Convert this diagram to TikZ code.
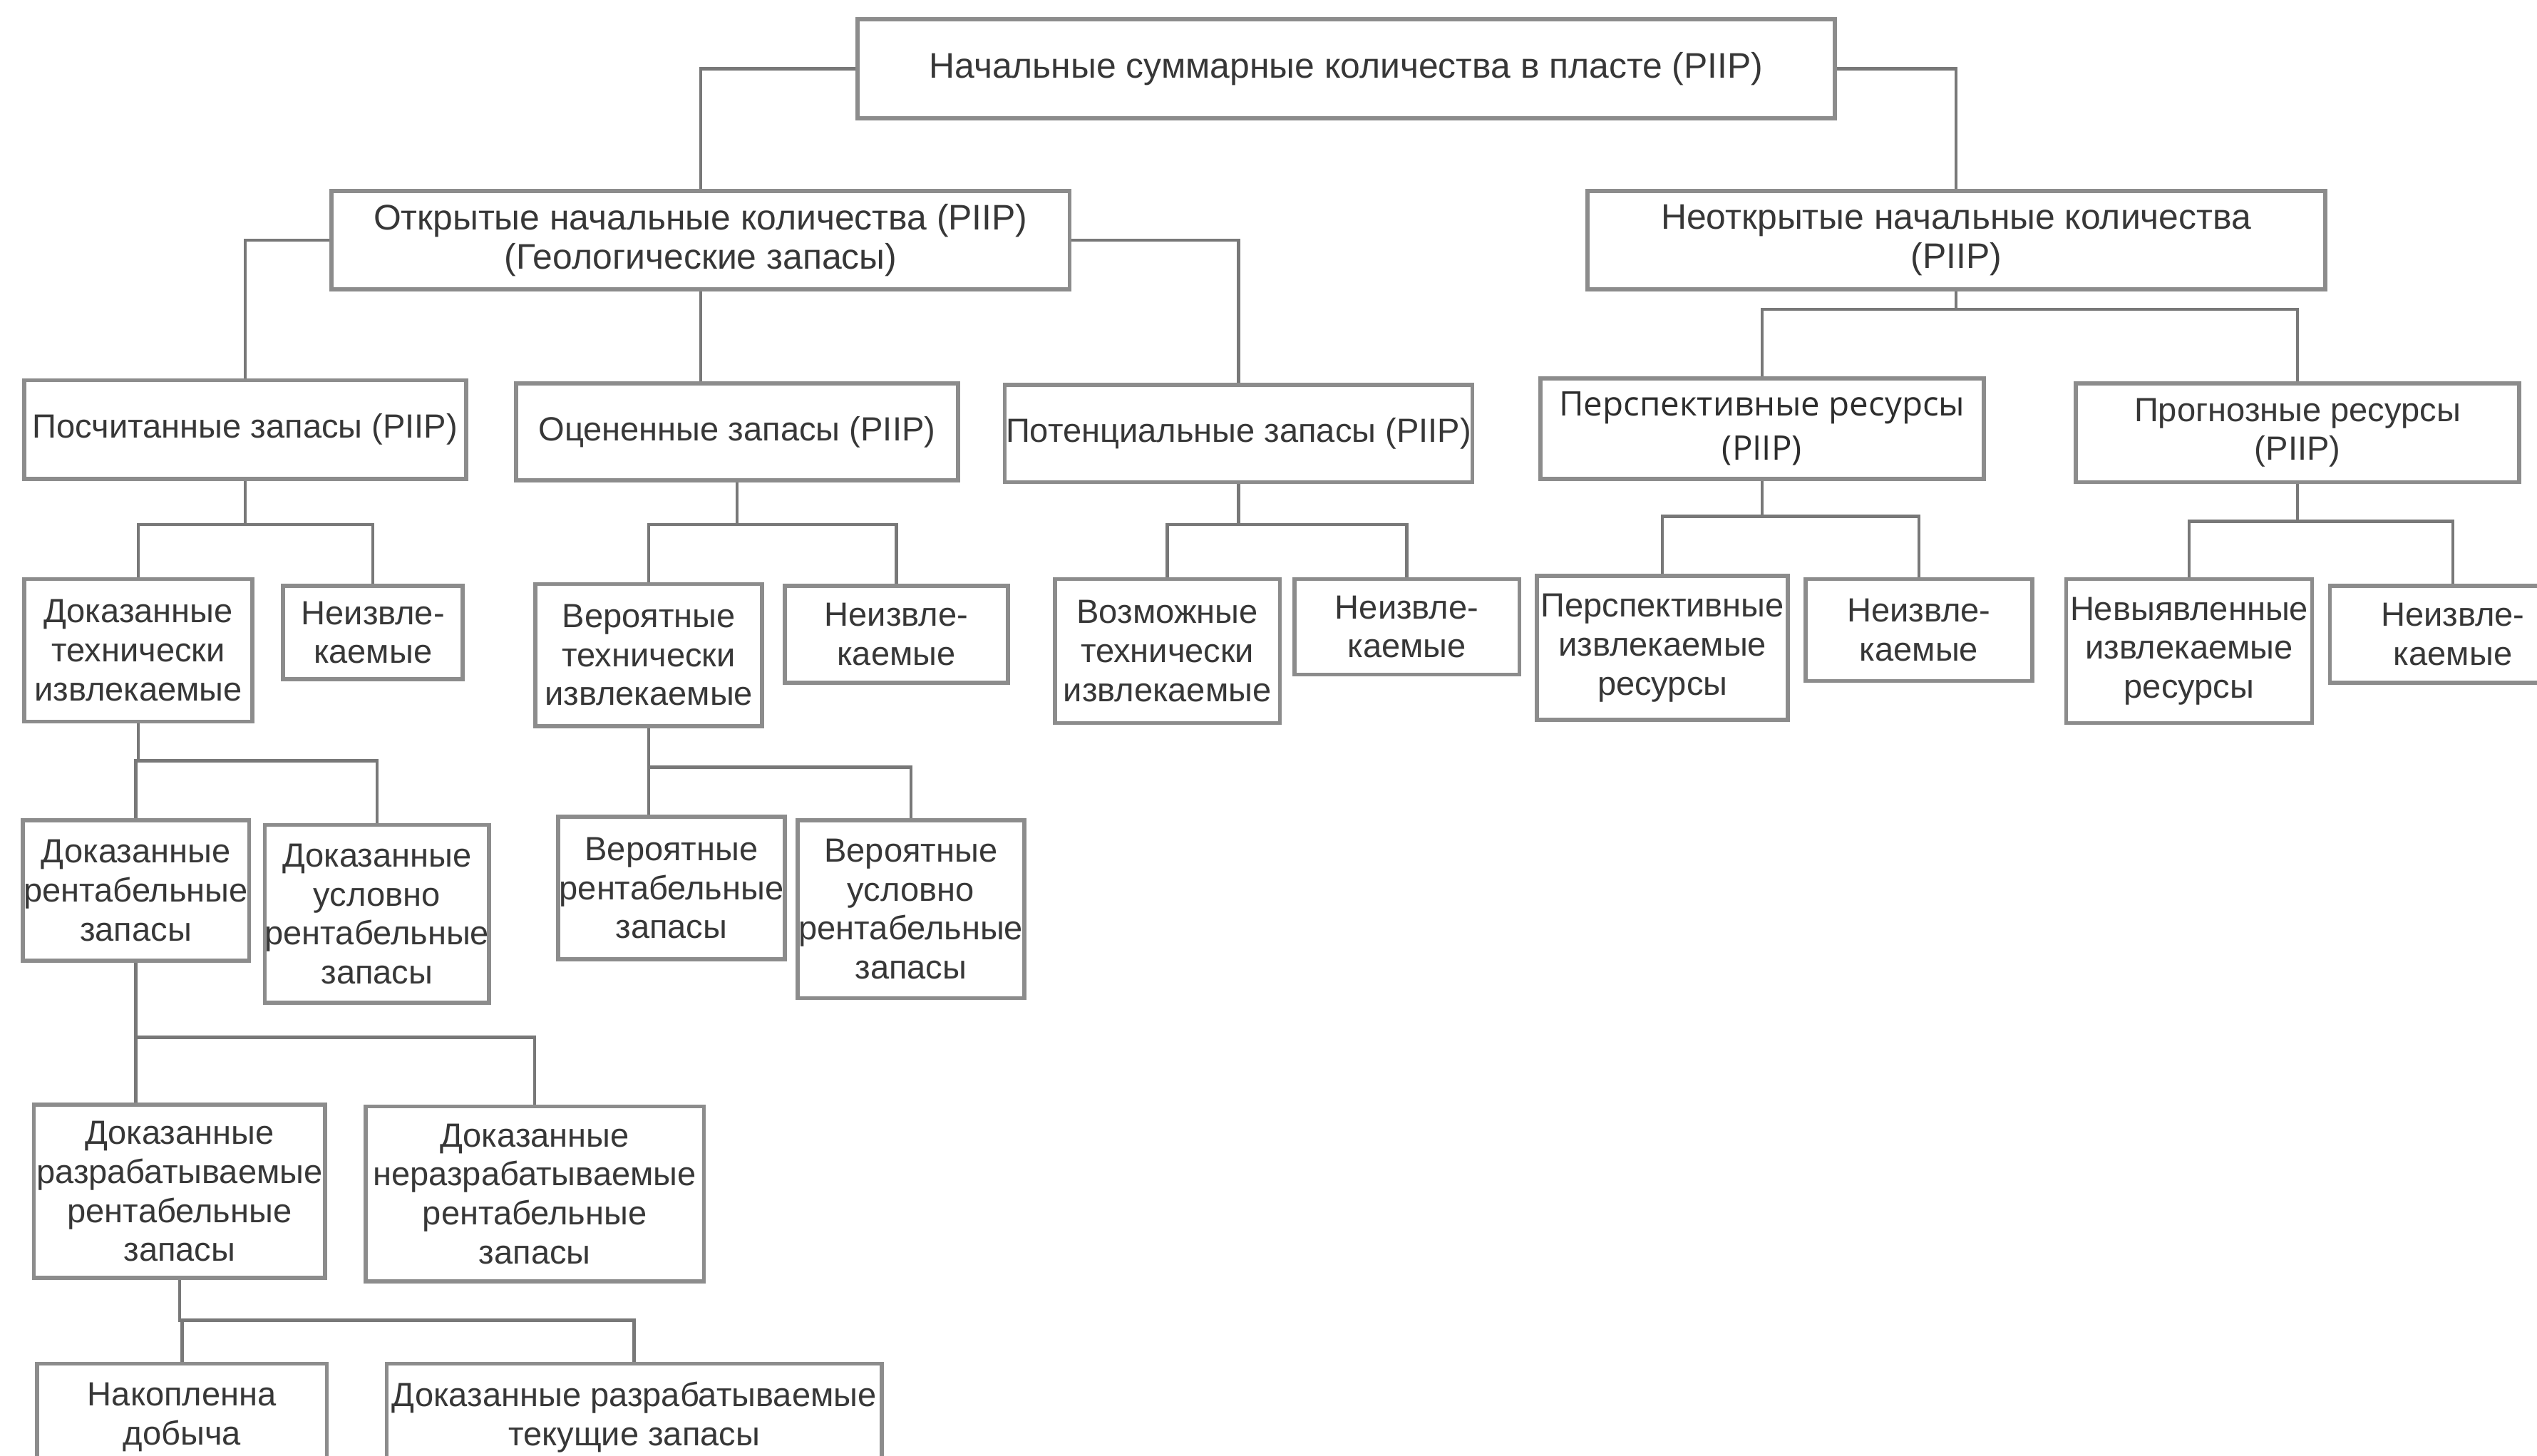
\documentclass[tikz,border=0pt]{standalone}
\usepackage{fontspec}
\setmainfont{Liberation Sans}
\newfontfamily\perspfont{Open Sans}
\usepackage{xcolor}
\definecolor{Line}{RGB}{120,120,120}
\definecolor{Frame}{RGB}{140,140,140}
\definecolor{Ink}{RGB}{55,55,55}
\definecolor{DarkInk}{RGB}{45,45,45}
\definecolor{White}{RGB}{255,255,255}
\tikzset{
	box/.style={draw=Frame, line width=0.5mm, fill=White, inner sep=0pt, align=center, text=Ink, font=\fontsize{12.5}{13.7}\selectfont},
	smallbox/.style={box, font=\fontsize{11.8}{13.7}\selectfont},
	link/.style={draw=Line, line width=0.4mm},
}

\begin{document}
\begin{tikzpicture}[x=0.2mm, y=-0.2mm]
		
		% Page
		\fill[White] (0,0) rectangle (1568,900);
		\useasboundingbox (0,0) rectangle (1568,900);
		
		% Blocks
		\node[box, minimum width=120.8mm, minimum height=12.2mm] (total) at (832,42.5) {Начальные суммарные количества в пласте (PIIP)};
		\node[box, minimum width=91.2mm, minimum height=12.2mm] (open) at (433,148.5) {Открытые начальные количества (PIIP)\\(Геологические запасы)};
		\node[box, minimum width=91.2mm, minimum height=12.2mm] (undisc) at (1209,148.5) {Неоткрытые начальные количества\\(PIIP)};
		
		\node[smallbox, minimum width=54.6mm, minimum height=12.2mm] (counted) at (151.5,265.5) {Посчитанные запасы (PIIP)};
		\node[smallbox, minimum width=54.6mm, minimum height=12mm] (estim) at (455.5,267) {Оцененные запасы (PIIP)};
		\node[smallbox, minimum width=57.8mm, minimum height=12mm] (potent) at (765.5,268) {Потенциальные запасы (PIIP)};
		\node[box, minimum width=54.8mm, minimum height=12.4mm, text=DarkInk, font=\perspfont\fontsize{11.9}{15.4}\selectfont] (prosp) at (1089,265) {Перспективные ресурсы\\(PIIP)};
		\node[smallbox, minimum width=54.8mm, minimum height=12.2mm] (progn) at (1420,267.5) {Прогнозные ресурсы\\(PIIP)};
		
		\node[smallbox, minimum width=28.2mm, minimum height=17.6mm] (provedtech) at (85.5,402) {Доказанные\\технически\\извлекаемые};
		\node[smallbox, minimum width=22.2mm, minimum height=11.6mm] (provedunrec) at (230.5,391) {Неизвле-\\каемые};
		\node[smallbox, minimum width=28mm, minimum height=17.6mm] (probtech) at (401,405) {Вероятные\\технически\\извлекаемые};
		\node[smallbox, minimum width=27.6mm, minimum height=12mm] (probunrec) at (554,392) {Неизвле-\\каемые};
		\node[smallbox, minimum width=27.8mm, minimum height=17.8mm] (posstech) at (721.5,402.5) {Возможные\\технически\\извлекаемые};
		\node[smallbox, minimum width=27.8mm, minimum height=11.8mm] (possunrec) at (869.5,387.5) {Неизвле-\\каемые};
		\node[smallbox, minimum width=31mm, minimum height=17.8mm] (prosprec) at (1027.5,400.5) {Перспективные\\извлекаемые\\ресурсы};
		\node[smallbox, minimum width=28mm, minimum height=12.6mm] (prospunrec) at (1186,389.5) {Неизвле-\\каемые};
		\node[smallbox, minimum width=30.4mm, minimum height=17.8mm] (undetrec) at (1353,402.5) {Невыявленные\\извлекаемые\\ресурсы};
		\node[smallbox, minimum width=30.4mm, minimum height=12mm] (undetunrec) at (1516,392) {Неизвле-\\каемые};
		
		\node[smallbox, minimum width=28mm, minimum height=17.4mm] (provedecon) at (84,550.5) {Доказанные\\рентабельные\\запасы};
		\node[smallbox, minimum width=27.6mm, minimum height=22mm] (provedcond) at (233,565) {Доказанные\\условно\\рентабельные\\запасы};
		\node[smallbox, minimum width=28mm, minimum height=17.6mm] (probecon) at (415,549) {Вероятные\\рентабельные\\запасы};
		\node[smallbox, minimum width=28mm, minimum height=22mm] (probcond) at (563,562) {Вероятные\\условно\\рентабельные\\запасы};
		
		\node[smallbox, minimum width=36mm, minimum height=21.4mm] (develop) at (111,736.5) {Доказанные\\разрабатываемые\\рентабельные\\запасы};
		\node[smallbox, minimum width=41.8mm, minimum height=21.6mm] (undevelop) at (330.5,738) {Доказанные\\неразрабатываемые\\рентабельные\\запасы};
		
		\node[smallbox, minimum width=35.8mm, minimum height=13.2mm] (cumprod) at (112.5,876) {Накопленна\\добыча};
		\node[smallbox, minimum width=61.2mm, minimum height=13.2mm] (current) at (392,876) {Доказанные разрабатываемые\\текущие запасы};
		
		% Tree
		\draw[link] (total.west) -| (open.north);
		\draw[link] (total.east) -| (undisc.north);
		
		\draw[link] (open.west) -| (counted.north);
		\draw[link] (open.south) -- (open.south |- estim.north);
		\draw[link] (open.east) -| (potent.north);
		
		\draw[link] (undisc.south) -- ++(0,11) -| (prosp.north);
		\draw[link] (undisc.south) -- ++(0,11) -| (progn.north);
		
		\draw[link] (counted.south) -- ++(0,27) -| (provedtech.north);
		\draw[link] (counted.south) -- ++(0,27) -| (provedunrec.north);
		
		\draw[link] (estim.south) -- ++(0,26) -| (probtech.north);
		\draw[link] (estim.south) -- ++(0,26) -| (probunrec.north);
		
		\draw[link] (potent.south) -- ++(0,25) -| (posstech.north);
		\draw[link] (potent.south) -- ++(0,25) -| (possunrec.north);
		
		\draw[link] (prosp.south) -- ++(0,22) -| (prosprec.north);
		\draw[link] (prosp.south) -- ++(0,22) -| (prospunrec.north);
		
		\draw[link] (progn.south) -- ++(0,23) -| (undetrec.north);
		\draw[link] (progn.south) -- ++(0,23) -| (undetunrec.north);
		
		\draw[link] (provedtech.south) -- ++(0,23) -| (provedecon.north);
		\draw[link] (provedtech.south) -- ++(0,23) -| (provedcond.north);
		
		\draw[link] (probtech.south) -- (probtech.south |- probecon.north);
		\draw[link] (probtech.south) -- ++(0,24) -| (probcond.north);
		
		\draw[link] (provedecon.south) -- (provedecon.south |- develop.north);
		\draw[link] (provedecon.south) -- ++(0,46) -| (undevelop.north);
		
		\draw[link] (develop.south) -- ++(0,25) -| (cumprod.north);
		\draw[link] (develop.south) -- ++(0,25) -| (current.north);
		
	\end{tikzpicture}
\end{document}
